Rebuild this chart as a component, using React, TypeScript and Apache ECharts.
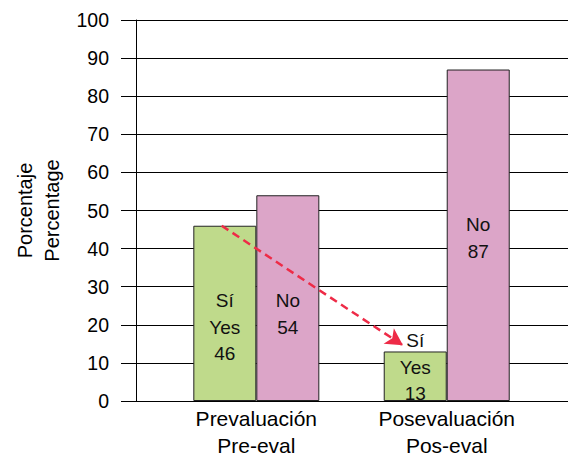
import React, { useEffect, useRef } from "react";
import * as echarts from "echarts";

const categories = ["Prevaluación\nPre-eval", "Posevaluación\nPos-eval"];
const catPositions = [1, 2];
const yesValues = [46, 13];
const noValues = [54, 87];
const yTicks = [0, 10, 20, 30, 40, 50, 60, 70, 80, 90, 100];
const arrowStart = [0.818, 46];
const arrowEnd = [1.77, 14.6];

const yesLabelOffsets = [14, -9];
const noLabelOffsets = [16, 2.5];

const FONT = "'Liberation Sans', Arial, sans-serif";

export default function App() {
  const ref = useRef<HTMLDivElement>(null);
  useEffect(() => {
    if (!ref.current) return;
    const chart = echarts.init(ref.current, undefined, { renderer: "svg" });
    const option = {
      animation: false,
      textStyle: { fontFamily: FONT },
      grid: { left: 136, right: 0, top: 20, bottom: 55, containLabel: false },
      xAxis: {
        type: "value",
        min: 0.368,
        max: 2.637,
        axisLine: { show: true, lineStyle: { color: "#000", width: 1 } },
        axisTick: { show: false },
        splitLine: { show: false },
        axisLabel: {
          customValues: catPositions,
          formatter: (v: number) => categories[Math.round(v) - 1] ?? "",
          fontSize: 21,
          lineHeight: 27,
          color: "#000",
          fontFamily: FONT,
          margin: 4,
        },
      },
      yAxis: {
        type: "value",
        min: yTicks[0],
        max: yTicks[yTicks.length - 1],
        interval: 10,
        name: "Porcentaje\nPercentage",
        nameLocation: "middle",
        nameRotate: 90,
        nameGap: 70,
        nameTextStyle: { fontSize: 20, lineHeight: 27, color: "#000", fontFamily: FONT },
        axisLine: { show: true, lineStyle: { color: "#000", width: 1 } },
        axisTick: { show: true, length: 15, lineStyle: { color: "#000", width: 1 } },
        splitLine: { show: true, lineStyle: { color: "#000", width: 1 } },
        axisLabel: { fontSize: 19.5, color: "#000", margin: 27, fontFamily: FONT },
      },
      series: [
        {
          type: "bar",
          name: "Sí",
          barWidth: 63,
          barGap: "0%",
          itemStyle: { color: "#BFDA8B", borderColor: "#222", borderWidth: 1 },
          data: yesValues.map((v, i) => ({
            value: [catPositions[i], v],
            label: { offset: [0, yesLabelOffsets[i]] },
          })),
          label: {
            show: true,
            position: "inside",
            formatter: (p: any) => "Sí\nYes\n" + p.value[1],
            fontSize: 19,
            lineHeight: 26.5,
            color: "#111",
            fontFamily: FONT,
          },
        },
        {
          type: "bar",
          name: "No",
          barWidth: 63,
          barGap: "0%",
          itemStyle: { color: "#DCA5C8", borderColor: "#222", borderWidth: 1 },
          data: noValues.map((v, i) => ({
            value: [catPositions[i], v],
            label: { offset: [0, noLabelOffsets[i]] },
          })),
          label: {
            show: true,
            position: "inside",
            formatter: (p: any) => "No\n" + p.value[1],
            fontSize: 19,
            lineHeight: 26.5,
            color: "#111",
            fontFamily: FONT,
          },
        },
        {
          type: "line",
          name: "arrow",
          data: [],
          silent: true,
          markLine: {
            silent: true,
            symbol: ["none", "arrow"],
            symbolSize: [14, 17],
            label: { show: false },
            lineStyle: { color: "#EE2B47", width: 2.5, type: [8, 5] },
            data: [[{ coord: arrowStart }, { coord: arrowEnd }]],
          },
        },
      ],
    };
    chart.setOption(option as any);
    return () => chart.dispose();
  }, []);
  return (
    <div
      ref={ref}
      style={{ position: "absolute", left: 0, top: 0, width: 568, height: 459, background: "#fff" }}
    />
  );
}
